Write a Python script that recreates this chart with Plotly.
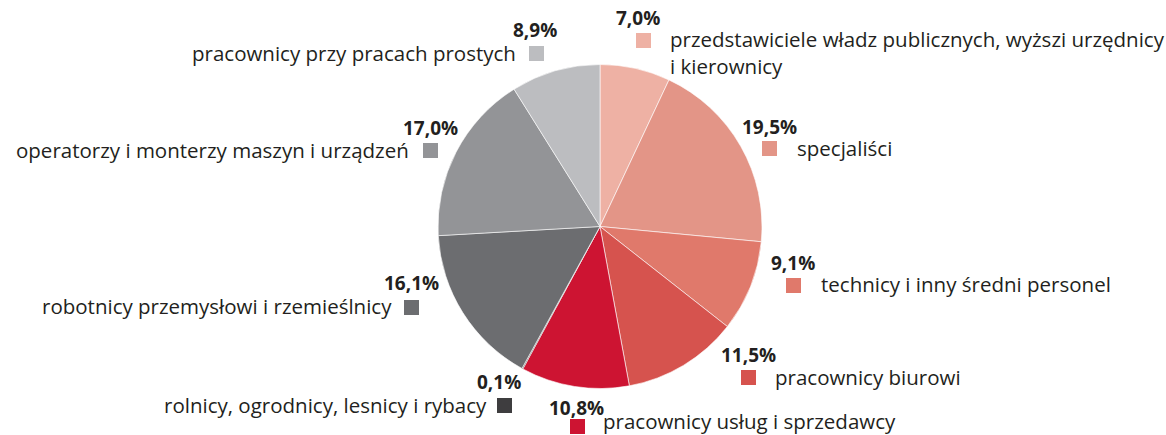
import plotly.graph_objects as go

# ---- data ----
categories = [
    "przedstawiciele władz publicznych, wyższi urzędnicy<br>i kierownicy",
    "specjaliści",
    "technicy i inny średni personel",
    "pracownicy biurowi",
    "pracownicy usług i sprzedawcy",
    "rolnicy, ogrodnicy, lesnicy i rybacy",
    "robotnicy przemysłowi i rzemieślnicy",
    "operatorzy i monterzy maszyn i urządzeń",
    "pracownicy przy pracach prostych",
]
shares = [7.0, 19.5, 9.1, 11.5, 10.8, 0.1, 16.1, 17.0, 8.9]
colors = ["#EEB1A4", "#E39587", "#E0796B", "#D6534E", "#CD1432",
          "#3E3D3F", "#6C6D70", "#939497", "#BCBDC0"]

W, H = 1166, 435
CX, CY, R = 600, 226.5, 162

fig = go.Figure(go.Pie(
    values=shares, labels=categories, sort=False, direction="clockwise",
    rotation=0, textinfo="none", hoverinfo="skip",
    marker=dict(colors=colors, line=dict(color="white", width=0.6)),
    showlegend=False,
    domain=dict(x=[(CX - R) / W, (CX + R) / W],
                y=[(H - CY - R) / H, (H - CY + R) / H]),
))

# label layout (pixel positions, top-left origin):
# (pct_x, pct_y, sq_x, sq_y, label_x, label_y, label_anchor)
placements = [
    (638, 18, 636, 33, 668, 52.5, "left"),
    (769, 127, 762, 141, 795, 148, "left"),
    (793, 263, 786, 278, 819, 284, "left"),
    (748, 355, 741, 370, 773, 377, "left"),
    (576, 408, 570, 419, 601, 421, "left"),
    (499, 382, 497, 398, 489, 405, "right"),
    (411, 283, 404, 300, 394, 306, "right"),
    (430, 128, 423, 143, 411, 150, "right"),
    (535, 30, 529, 46, 518, 53, "right"),
]
SQ = 15
TXT = "#231F20"
FONT = "Open Sans"

def px(x):
    return x / W

def py(y):
    return 1 - y / H

annotations = []
shapes = []
for cat, val, col, p in zip(categories, shares, colors, placements):
    pxp, pyp, sx, sy, lx, ly, la = p
    annotations.append(dict(
        x=px(pxp), y=py(pyp), xref="paper", yref="paper",
        text="<b>" + f"{val:.1f}".replace(".", ",") + "%</b>",
        showarrow=False, xanchor="center", yanchor="middle",
        font=dict(family=FONT, size=19, color=TXT)))
    shapes.append(dict(
        type="rect", xref="paper", yref="paper",
        x0=px(sx), x1=px(sx + SQ), y0=py(sy + SQ), y1=py(sy),
        fillcolor=col, line=dict(width=0)))
    annotations.append(dict(
        x=px(lx), y=py(ly), xref="paper", yref="paper",
        text=cat, showarrow=False, xanchor=la, yanchor="middle",
        align="left",
        font=dict(family=FONT, size=20.5, color=TXT)))

fig.update_layout(
    width=W, height=H, margin=dict(l=0, r=0, t=0, b=0),
    paper_bgcolor="white", plot_bgcolor="white",
    annotations=annotations, shapes=shapes,
)

fig.write_html("out.html", config={"displayModeBar": False},
               post_script="document.body.style.margin='0';")
